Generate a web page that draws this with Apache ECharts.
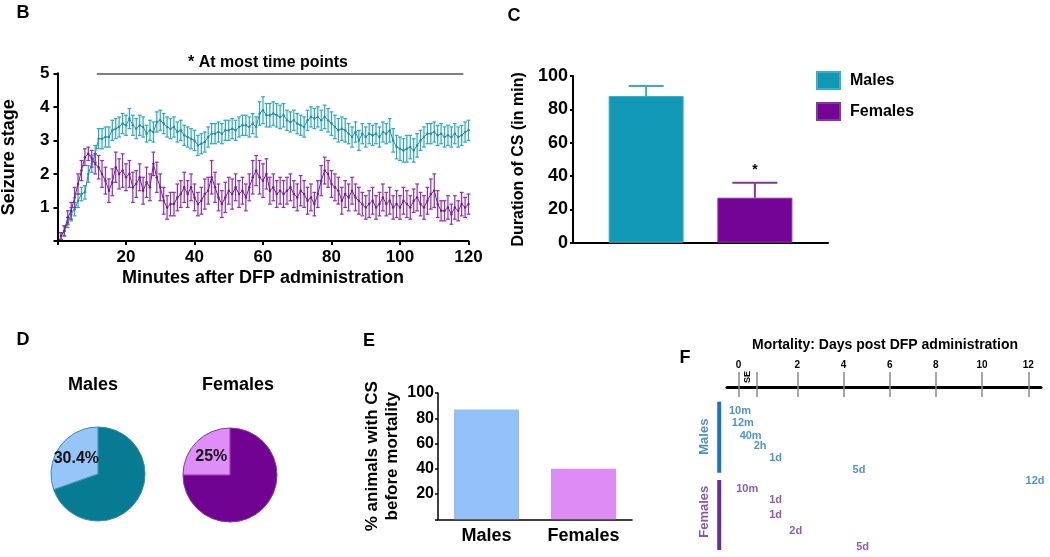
<!DOCTYPE html>
<html><head><meta charset="utf-8">
<script src="https://cdn.jsdelivr.net/npm/echarts@6/dist/echarts.min.js"></script>
<style>html,body{margin:0;padding:0;background:#fff}#c{width:1050px;height:557px}</style>
</head><body><div id="c"></div>
<script>
const FONT = '"Liberation Sans", Arial, Helvetica, sans-serif';

// ---------- Panel B: seizure stage over time ----------
const minutes = [1,2,3,4,5,6,7,8,9,10,11,12,13,14,15,16,17,18,19,20,21,22,23,24,25,26,27,28,29,30,31,32,33,34,35,36,37,38,39,40,41,42,43,44,45,46,47,48,49,50,51,52,53,54,55,56,57,58,59,60,61,62,63,64,65,66,67,68,69,70,71,72,73,74,75,76,77,78,79,80,81,82,83,84,85,86,87,88,89,90,91,92,93,94,95,96,97,98,99,100,101,102,103,104,105,106,107,108,109,110,111,112,113,114,115,116,117,118,119,120];
const maleStage = [0.15,0.3,0.55,0.8,0.95,1.2,1.4,1.45,2.0,2.3,
  2.6,3.05,3.05,3.1,3.1,3.3,3.35,3.4,3.5,3.45,
  3.65,3.45,3.35,3.45,3.4,3.2,3.3,3.25,3.55,3.6,
  3.5,3.4,3.35,3.4,3.25,3.3,3.15,3.1,3.05,3.0,
  2.85,2.9,2.95,3.1,3.2,3.2,3.25,3.2,3.3,3.3,
  3.35,3.3,3.4,3.45,3.45,3.4,3.5,3.4,3.8,3.9,
  3.75,3.75,3.8,3.75,3.7,3.75,3.6,3.55,3.6,3.5,
  3.45,3.4,3.6,3.7,3.65,3.7,3.6,3.7,3.6,3.5,
  3.4,3.3,3.35,3.3,3.2,3.1,3.25,3.0,3.2,3.1,
  3.2,3.15,3.2,3.1,3.25,3.2,3.3,3.0,2.8,2.75,
  2.7,2.75,2.8,2.7,2.85,3.0,3.1,3.2,3.2,3.25,
  3.15,3.2,3.1,3.15,3.1,3.2,3.1,3.15,3.25,3.3];
const maleSem = [0.1,0.15,0.15,0.2,0.2,0.2,0.2,0.2,0.25,0.25,
  0.25,0.3,0.3,0.3,0.3,0.3,0.3,0.3,0.3,0.3,
  0.3,0.3,0.3,0.3,0.3,0.25,0.3,0.3,0.3,0.3,
  0.3,0.3,0.3,0.3,0.3,0.3,0.3,0.3,0.3,0.3,
  0.3,0.3,0.3,0.3,0.3,0.3,0.3,0.3,0.3,0.3,
  0.3,0.3,0.3,0.3,0.3,0.3,0.3,0.3,0.35,0.4,
  0.35,0.35,0.35,0.35,0.35,0.35,0.3,0.3,0.3,0.3,
  0.3,0.3,0.3,0.3,0.3,0.3,0.3,0.35,0.35,0.35,
  0.35,0.35,0.35,0.35,0.3,0.3,0.3,0.3,0.3,0.3,
  0.3,0.3,0.3,0.3,0.3,0.3,0.35,0.35,0.35,0.35,
  0.35,0.4,0.35,0.35,0.35,0.3,0.3,0.3,0.3,0.3,
  0.3,0.3,0.3,0.3,0.3,0.3,0.3,0.3,0.3,0.3];
const femaleStage = [0.15,0.3,0.7,0.9,1.3,1.7,2.1,2.5,2.6,2.45,
  2.3,2.2,2.0,1.8,1.5,1.75,2.2,2.0,2.1,1.9,
  2.0,1.6,1.7,1.9,1.5,1.75,1.6,2.3,1.9,1.6,
  1.2,1.0,1.1,1.1,1.3,1.4,1.6,1.4,1.6,1.3,
  1.1,1.2,1.4,1.5,1.9,1.6,1.3,1.1,1.3,1.5,
  1.4,1.6,1.4,1.5,1.3,1.6,1.9,2.1,1.9,1.8,
  2.0,1.5,1.6,1.4,1.5,1.4,1.5,1.6,1.4,1.3,
  1.5,1.4,1.2,1.3,1.1,1.4,1.8,2.1,2.0,1.7,
  1.6,1.5,1.2,1.4,1.3,1.5,1.3,1.2,1.1,1.0,
  1.1,1.2,1.0,1.1,1.3,1.1,1.2,1.0,1.1,1.0,
  1.2,1.1,1.0,1.2,1.3,1.1,1.0,1.2,1.4,1.5,
  1.1,0.9,0.9,1.0,0.8,1.0,0.9,1.1,1.0,1.1];
const femaleSem = [0.1,0.15,0.2,0.25,0.3,0.3,0.3,0.25,0.2,0.25,
  0.3,0.35,0.4,0.4,0.35,0.4,0.45,0.45,0.5,0.4,
  0.4,0.45,0.4,0.4,0.4,0.45,0.4,0.35,0.45,0.4,
  0.4,0.35,0.35,0.35,0.4,0.4,0.45,0.4,0.4,0.4,
  0.35,0.4,0.45,0.4,0.5,0.45,0.4,0.4,0.45,0.4,
  0.45,0.4,0.4,0.4,0.4,0.4,0.5,0.45,0.5,0.5,
  0.45,0.4,0.4,0.4,0.4,0.4,0.4,0.4,0.4,0.4,
  0.45,0.4,0.4,0.4,0.35,0.4,0.45,0.4,0.4,0.4,
  0.4,0.4,0.4,0.4,0.4,0.4,0.4,0.4,0.35,0.35,
  0.4,0.4,0.35,0.35,0.4,0.35,0.4,0.35,0.4,0.35,
  0.4,0.4,0.35,0.35,0.4,0.35,0.35,0.4,0.45,0.5,
  0.4,0.3,0.3,0.35,0.3,0.35,0.3,0.35,0.3,0.3];
const sigBar = [11.5, 118.5];   // extent (min) of "* At most time points" bar

// ---------- Panel C: duration of CS ----------
const cGroups = ['Males', 'Females'];
const cMean = [88, 27];
const cSem = [6, 9];

// ---------- Panel D: pies ----------
const dGroups = ['Males', 'Females'];
const dPct = [30.4, 25];

// ---------- Panel E: % animals with CS before mortality ----------
const eCats = ['Males', 'Females'];
const eVals = [87, 40];

// ---------- Panel F: mortality timeline ----------
const tlTickPos = [-0.54, 0.24, 2, 4, 6, 8, 10, 12];
const tlLabelPos = [-0.54, 2, 4, 6, 8, 10, 12];
const tlLabels = ['0', '2', '4', '6', '8', '10', '12'];
const maleDeathLabels = ['10m', '12m', '40m', '2h', '1d', '5d', '12d'];
const maleDeathX = [-0.48, -0.36, -0.02, 0.39, 1.06, 4.67, 12.29];
const maleDeathRow = [1.0, 2.08, 3.14, 4.03, 5.03, 6.08, 7.0];
const femaleDeathLabels = ['10m', '1d', '1d', '2d', '5d'];
const femaleDeathX = [-0.17, 1.06, 1.06, 1.93, 4.83];
const femaleDeathRow = [7.68, 8.65, 9.94, 11.28, 12.65];

const C_MALE = '#1198b4', C_FEMALE = '#740496';
const B_MALE = '#27a9c4', B_FEMALE = '#922bb8';
const F_BLUE = '#1f78c6', F_PURPLE = '#76309e';

function bErr(color) {
  return function (params, api) {
    const x = api.value(0), y = api.value(1), e = api.value(2);
    const p1 = api.coord([x, y + e]);
    const p2 = api.coord([x, Math.max(0, y - e)]);
    const cw = 1.9;
    const st = { stroke: color, lineWidth: 1.2 };
    return { type: 'group', children: [
      { type: 'line', shape: { x1: p1[0], y1: p1[1], x2: p2[0], y2: p2[1] }, style: st },
      { type: 'line', shape: { x1: p1[0] - cw, y1: p1[1], x2: p1[0] + cw, y2: p1[1] }, style: st },
      { type: 'line', shape: { x1: p2[0] - cw, y1: p2[1], x2: p2[0] + cw, y2: p2[1] }, style: st }
    ]};
  };
}
const C_BAR_W = 75, C_GAP = 0.45;
const cErrColors = ['#3aabc3', '#8a2eaa'];
const cCapW = [35, 45];
function cErr(params, api) {
  const v = api.value(1), e = api.value(2), g = api.value(3);
  const off = (g === 0 ? -1 : 1) * (C_BAR_W * (1 + C_GAP)) / 2;
  const top = api.coord([0, v + e]), bot = api.coord([0, v]);
  const x = top[0] + off;
  const st = { stroke: cErrColors[g], lineWidth: 2 };
  return { type: 'group', children: [
    { type: 'line', shape: { x1: x, y1: top[1], x2: x, y2: bot[1] }, style: st },
    { type: 'line', shape: { x1: x - cCapW[g] / 2, y1: top[1], x2: x + cCapW[g] / 2, y2: top[1] }, style: st }
  ]};
}

const bold = (size, color) => ({ fontFamily: FONT, fontWeight: 'bold', fontSize: size, color: color || '#000' });
const txt = (text, x, y, size, extra) => Object.assign({
  type: 'text', x: x, y: y, silent: true,
  style: { text: text, fontFamily: FONT, fontWeight: 'bold', fontSize: size, fill: '#000', align: 'center', verticalAlign: 'middle' }
}, extra || {});

const chart = echarts.init(document.getElementById('c'), null, { renderer: 'canvas' });
const option = {
  animation: false,
  backgroundColor: '#fff',
  textStyle: { fontFamily: FONT },
  grid: [
    { left: 57.5, top: 73.3, width: 411, height: 167.7, outerBoundsMode: 'none' },
    { left: 573, top: 76, width: 255, height: 166.7, outerBoundsMode: 'none' },
    { left: 438, top: 393, width: 194, height: 126.3, outerBoundsMode: 'none' },
    { left: 727, top: 372, width: 314, height: 15, outerBoundsMode: 'none' },
    { left: 700, top: 399, width: 341, height: 157, outerBoundsMode: 'none' }
  ],
  legend: {
    data: cGroups, orient: 'vertical', left: 816, top: 71, padding: 0,
    itemWidth: 23, itemHeight: 17, itemGap: 12, icon: 'rect',
    textStyle: Object.assign(bold(16), { padding: [0, 0, 0, 5] })
  },
  xAxis: [
    { gridIndex: 0, type: 'value', min: 0, max: 120, interval: 20,
      name: 'Minutes after DFP administration', nameLocation: 'middle', nameGap: 28, nameTextStyle: bold(18),
      axisLine: { lineStyle: { color: '#000', width: 2 } },
      axisTick: { show: true, length: 4, lineStyle: { color: '#000', width: 2 } },
      axisLabel: Object.assign(bold(17), { margin: 8, formatter: v => v === 0 ? '' : v }),
      splitLine: { show: false } },
    { gridIndex: 1, type: 'category', data: ['CS'],
      axisLine: { lineStyle: { color: '#000', width: 2 } },
      axisTick: { show: false }, axisLabel: { show: false } },
    { gridIndex: 2, type: 'category', data: eCats,
      axisLine: { lineStyle: { color: '#000', width: 1.5 } },
      axisTick: { show: false }, axisLabel: Object.assign(bold(18), { margin: 8 }) },
    { gridIndex: 3, type: 'value', min: -1.043, max: 12.55, position: 'bottom',
      axisLine: { lineStyle: { color: '#000', width: 3 } },
      axisTick: { show: true, customValues: tlTickPos, length: 10, lineStyle: { color: '#8a8a8a', width: 1.5 } },
      axisLabel: { show: false }, splitLine: { show: false } },
    { gridIndex: 3, type: 'value', min: -1.043, max: 12.55, position: 'bottom',
      axisLine: { show: false },
      axisTick: { show: true, inside: true, customValues: tlTickPos, length: 15, lineStyle: { color: '#8a8a8a', width: 1.5 } },
      axisLabel: Object.assign(bold(10), { inside: true, margin: 17, customValues: tlLabelPos,
        formatter: v => { const i = tlLabelPos.indexOf(v); return i >= 0 ? tlLabels[i] : ''; } }),
      splitLine: { show: false } },
    { gridIndex: 4, type: 'value', min: -2.212, max: 12.55, show: false }
  ],
  yAxis: [
    { gridIndex: 0, type: 'value', min: 0, max: 5, interval: 1,
      name: 'Seizure stage', nameLocation: 'middle', nameGap: 39, nameRotate: 90, nameTextStyle: bold(18),
      axisLine: { show: true, lineStyle: { color: '#000', width: 2 } },
      axisTick: { show: true, length: 4, lineStyle: { color: '#000', width: 2 } },
      axisLabel: Object.assign(bold(17), { margin: 8, formatter: v => v === 0 ? '' : v }),
      splitLine: { show: false } },
    { gridIndex: 1, type: 'value', min: 0, max: 100, interval: 20,
      name: 'Duration of CS (in min)', nameLocation: 'middle', nameGap: 46, nameRotate: 90, nameTextStyle: bold(16),
      axisLine: { show: true, lineStyle: { color: '#000', width: 2 } },
      axisTick: { show: true, length: 3, lineStyle: { color: '#000', width: 2 } },
      axisLabel: Object.assign(bold(18), { margin: 5 }),
      splitLine: { show: false } },
    { gridIndex: 2, type: 'value', min: 0, max: 100, interval: 20,
      name: '% animals with CS\nbefore mortality', nameLocation: 'middle', nameGap: 36, nameRotate: 90,
      nameTextStyle: Object.assign(bold(17), { lineHeight: 20 }),
      axisLine: { show: true, lineStyle: { color: '#000', width: 1.5 } },
      axisTick: { show: true, length: 3, lineStyle: { color: '#000', width: 1.5 } },
      axisLabel: Object.assign(bold(16), { margin: 4, formatter: v => v === 0 ? '' : v }),
      splitLine: { show: false } },
    { gridIndex: 3, type: 'value', min: 0, max: 1, show: false },
    { gridIndex: 4, type: 'value', min: 0, max: 13.45, inverse: true, show: false }
  ],
  series: [
    // ---- B ----
    { name: 'Males stage err', type: 'custom', xAxisIndex: 0, yAxisIndex: 0, silent: true,
      renderItem: bErr(B_MALE), data: minutes.map((m, i) => [m, maleStage[i], maleSem[i]]), z: 2 },
    { name: 'Males stage', type: 'line', xAxisIndex: 0, yAxisIndex: 0, silent: true,
      data: minutes.map((m, i) => [m, maleStage[i]]), showAllSymbol: true, symbol: 'circle', symbolSize: 2.5,
      itemStyle: { color: '#1f8fa8' }, lineStyle: { color: '#1f8fa8', width: 1 }, z: 3,
      markLine: { silent: true, symbol: 'none', label: { show: false },
        lineStyle: { color: '#555', width: 1.5, type: 'solid' },
        data: [[{ coord: [sigBar[0], 5] }, { coord: [sigBar[1], 5] }]] } },
    { name: 'Females stage err', type: 'custom', xAxisIndex: 0, yAxisIndex: 0, silent: true,
      renderItem: bErr(B_FEMALE), data: minutes.map((m, i) => [m, femaleStage[i], femaleSem[i]]), z: 4 },
    { name: 'Females stage', type: 'line', xAxisIndex: 0, yAxisIndex: 0, silent: true,
      data: minutes.map((m, i) => [m, femaleStage[i]]), showAllSymbol: true, symbol: 'circle', symbolSize: 2.5,
      itemStyle: { color: '#6f1d94' }, lineStyle: { color: '#6f1d94', width: 1 }, z: 5 },
    // ---- C ----
    { name: cGroups[0], type: 'bar', xAxisIndex: 1, yAxisIndex: 1, data: [cMean[0]],
      barWidth: C_BAR_W, barGap: (C_GAP * 100) + '%', itemStyle: { color: C_MALE, borderColor: '#3ab0c8', borderWidth: 1 } },
    { name: cGroups[1], type: 'bar', xAxisIndex: 1, yAxisIndex: 1, data: [cMean[1]],
      barWidth: C_BAR_W, barGap: (C_GAP * 100) + '%', itemStyle: { color: C_FEMALE, borderColor: '#8a30aa', borderWidth: 1 },
      label: { show: true, position: 'top', distance: 21, formatter: '*', fontFamily: FONT, fontWeight: 'bold', fontSize: 14, color: '#000' } },
    { name: 'C err', type: 'custom', xAxisIndex: 1, yAxisIndex: 1, silent: true, renderItem: cErr,
      encode: { x: 0, y: 1 },
      data: cMean.map((v, i) => [0, v, cSem[i], i]), z: 1 },
    // ---- D ----
    { name: 'D ' + dGroups[0], type: 'pie', center: [98, 474], radius: 47, startAngle: 90, clockwise: true, silent: true,
      avoidLabelOverlap: false, labelLine: { show: false },
      itemStyle: { borderColor: '#2f8fae', borderWidth: 1 },
      data: [
        { value: +(100 - dPct[0]).toFixed(1), name: 'no CS', itemStyle: { color: '#077b92' }, label: { show: false } },
        { value: dPct[0], name: 'CS', itemStyle: { color: '#97c5f8' } }
      ],
      label: { show: true, position: 'inside', formatter: p => p.value + '%', fontFamily: FONT, fontWeight: 'bold', fontSize: 16, color: '#111' } },
    { name: 'D ' + dGroups[1], type: 'pie', center: [230, 475], radius: 47, startAngle: 90, clockwise: true, silent: true,
      avoidLabelOverlap: false, labelLine: { show: false },
      itemStyle: { borderColor: '#8d35ab', borderWidth: 1 },
      data: [
        { value: 100 - dPct[1], name: 'no CS', itemStyle: { color: '#710392' }, label: { show: false } },
        { value: dPct[1], name: 'CS', itemStyle: { color: '#de8ef6' } }
      ],
      label: { show: true, position: 'inside', formatter: p => p.value + '%', fontFamily: FONT, fontWeight: 'bold', fontSize: 16, color: '#111' } },
    // ---- E ----
    { name: 'E', type: 'bar', xAxisIndex: 2, yAxisIndex: 2, barWidth: 65, silent: true,
      data: [ { value: eVals[0], itemStyle: { color: '#93c0f8' } }, { value: eVals[1], itemStyle: { color: '#dd8cf6' } } ] },
    // ---- F ----
    { name: 'F males bracket', type: 'line', xAxisIndex: 5, yAxisIndex: 4, silent: true, symbol: 'none',
      lineStyle: { color: '#1a74c6', width: 4 }, data: [[-1.38, 0.23], [-1.38, 6.32]] },
    { name: 'F females bracket', type: 'line', xAxisIndex: 5, yAxisIndex: 4, silent: true, symbol: 'none',
      lineStyle: { color: '#6a2c9a', width: 4 }, data: [[-1.38, 6.94], [-1.38, 12.94]] },
    { name: 'F groups', type: 'scatter', xAxisIndex: 5, yAxisIndex: 4, silent: true, symbolSize: 1,
      itemStyle: { color: 'rgba(0,0,0,0)' },
      data: [
        { value: [-2.0, 3.23], name: 'Males', label: { color: '#1a74c6' } },
        { value: [-2.0, 9.66], name: 'Females', label: { color: '#6a2c9a' } }
      ],
      label: { show: true, position: 'inside', rotate: 90, formatter: '{b}', fontFamily: FONT, fontWeight: 'bold', fontSize: 13 } },
    { name: 'F male deaths', type: 'scatter', xAxisIndex: 5, yAxisIndex: 4, silent: true, symbolSize: 1,
      itemStyle: { color: 'rgba(0,0,0,0)' },
      data: maleDeathLabels.map((l, i) => ({ value: [maleDeathX[i], maleDeathRow[i]], name: l })),
      label: { show: true, position: 'inside', formatter: '{b}', fontFamily: FONT, fontWeight: 'bold', fontSize: 11, color: F_BLUE } },
    { name: 'F female deaths', type: 'scatter', xAxisIndex: 5, yAxisIndex: 4, silent: true, symbolSize: 1,
      itemStyle: { color: 'rgba(0,0,0,0)' },
      data: femaleDeathLabels.map((l, i) => ({ value: [femaleDeathX[i], femaleDeathRow[i]], name: l })),
      label: { show: true, position: 'inside', formatter: '{b}', fontFamily: FONT, fontWeight: 'bold', fontSize: 11, color: F_PURPLE } }
  ],
  graphic: [
    txt('B', 23, 13, 18),
    txt('C', 514, 16, 18),
    txt('D', 23, 340, 18),
    txt('E', 369, 341, 18),
    txt('F', 685, 358, 18),
    txt('* At most time points', 268, 63, 16),
    txt('Males', 93, 385, 18),
    txt('Females', 238, 385, 18),
    txt('Mortality: Days post DFP administration', 885, 345, 14),
    txt('SE', 748, 377, 9, { rotation: Math.PI / 2 })
  ]
};
chart.setOption(option);
</script>
</body></html>
